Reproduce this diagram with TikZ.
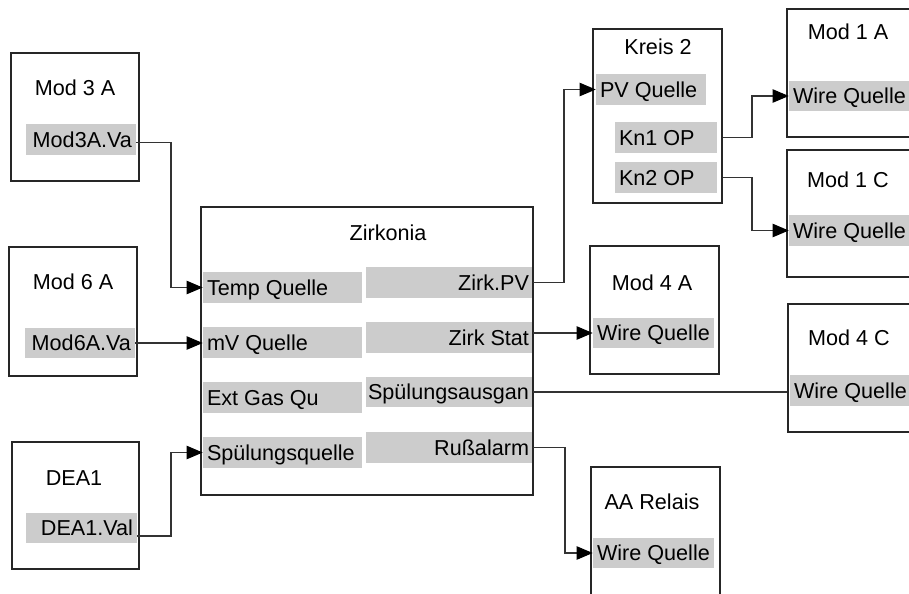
\documentclass[tikz,border=0pt]{standalone}
\usepackage{fontspec}
\setmainfont{Liberation Sans}
\usetikzlibrary{fit,arrows.meta}
\definecolor{slotgray}{HTML}{CCCCCC}
\begin{document}
\begin{tikzpicture}[x=0.75pt,y=-0.75pt,
  font=\fontsize{16.2}{19}\selectfont,
  box/.style={draw=black!85, line width=1.1pt, inner sep=0pt},
  slot/.style={fill=slotgray, draw=none, inner sep=0pt},
  ttl/.style={inner sep=0pt, text height=11.6pt, text depth=0pt},
  lt/.style={label={[ttl,anchor=west,xshift=3pt]west:#1}},
  rt/.style={label={[ttl,anchor=east,xshift=-3pt]east:#1}},
  wire/.style={draw=black!80, line width=0.8pt},
  arr/.style={wire,-{Triangle[length=12pt,width=10pt,fill=black,color=black]}}]
\useasboundingbox (0,0) rectangle (909,593);
\clip (0,0) rectangle (909,593);

% grey slots
\node[slot, fit={(26,124)(136,155)}, rt=Mod3A.Va] (m3aout) {};
\node[slot, fit={(25,328)(135,358)}, rt=Mod6A.Va] (m6aout) {};
\node[slot, fit={(26,513)(137,543)}, rt=DEA1.Val] (dea1out) {};

\node[slot, fit={(203,272)(362,303)}, lt=Temp Quelle] (zin1) {};
\node[slot, fit={(203,327)(362,358)}, lt=mV Quelle] (zin2) {};
\node[slot, fit={(203,382)(362,413)}, lt=Ext Gas Qu] (zin3) {};
\node[slot, fit={(203,437)(362,468)}, lt=Spülungsquelle] (zin4) {};

\node[slot, fit={(366,267)(533,298)}, rt=Zirk.PV] (zout1) {};
\node[slot, fit={(366,322)(533,353)}, rt=Zirk Stat] (zout2) {};
\node[slot, fit={(366,377)(533,407)}, rt=Spülungsausgan] (zout3) {};
\node[slot, fit={(366,432)(533,463)}, rt=Rußalarm] (zout4) {};

\node[slot, fit={(596,74)(706,105)}, lt=PV Quelle] (kpv) {};
\node[slot, fit={(615,122)(717,153)}, lt=Kn1 OP] (kn1) {};
\node[slot, fit={(615,162)(717,193)}, lt=Kn2 OP] (kn2) {};

\node[slot, fit={(789,81)(915,111)}, lt=Wire Quelle] (m1ain) {};
\node[slot, fit={(789,215)(915,246)}, lt=Wire Quelle] (m1cin) {};
\node[slot, fit={(593,318)(714,348)}, lt=Wire Quelle] (m4ain) {};
\node[slot, fit={(790,375)(915,406)}, lt=Wire Quelle] (m4cin) {};
\node[slot, fit={(593,538)(714,568)}, lt=Wire Quelle] (aain) {};

% boxes
\node[box, fit={(11,53)(139,181)}] (m3a) {};
\node[box, fit={(9,247)(137,376)}] (m6a) {};
\node[box, fit={(12,442)(139,569)}] (dea1) {};
\node[box, fit={(201,207)(533,495)}] (zirk) {};
\node[box, fit={(593,29)(722,203)}] (k2) {};
\node[box, fit={(787,9)(915,137)}] (m1a) {};
\node[box, fit={(787,150)(915,277)}] (m1c) {};
\node[box, fit={(590,246)(719,374)}] (m4a) {};
\node[box, fit={(788,304)(915,432)}] (m4c) {};
\node[box, fit={(591,467)(720,600)}] (aa) {};

% titles
\node[ttl] (m3at) at (75,88) {Mod 3 A};
\node[ttl] (m6at) at (73,282) {Mod 6 A};
\node[ttl] (dea1t) at (74,478) {DEA1};
\node[ttl] (zirkt) at (388,233) {Zirkonia};
\node[ttl] (k2t) at (658,47) {Kreis 2};
\node[ttl] (m1at) at (848,32) {Mod 1 A};
\node[ttl] (m1ct) at (848,180) {Mod 1 C};
\node[ttl] (m4at) at (652,283) {Mod 4 A};
\node[ttl] (m4ct) at (849,338) {Mod 4 C};
\node[ttl] (aat) at (652,502) {AA Relais};

% bend coordinates
\coordinate (b1) at (171,0);
\coordinate (b2) at (564,0);
\coordinate (b3) at (565,0);
\coordinate (b4) at (752,0);

% connectors
\draw[arr] ([yshift=-2.5pt]m3aout.east) -| (b1 |- zin1.west) -- (zin1.west);
\draw[arr] (m6aout.east) -- (m6aout.east -| zin2.west);
\draw[arr] ([yshift=-6pt]dea1out.east) -| (b1 |- zin4.west) -- (zin4.west);
\draw[arr] (zout1.east) -| (b2 |- kpv.west) -- (kpv.west);
\draw[arr] (zout2.east |- m4ain.west) -- (m4ain.west);
\draw[wire] (zout3.east) -- (zout3.east -| m4c.west);
\draw[arr] (zout4.east) -| (b3 |- aain.west) -- (aain.west);
\draw[arr] (kn1 -| k2.east) -| (b4 |- m1ain.west) -- (m1ain.west);
\draw[arr] (kn2 -| k2.east) -| (b4 |- m1cin.west) -- (m1cin.west);
\end{tikzpicture}
\end{document}
